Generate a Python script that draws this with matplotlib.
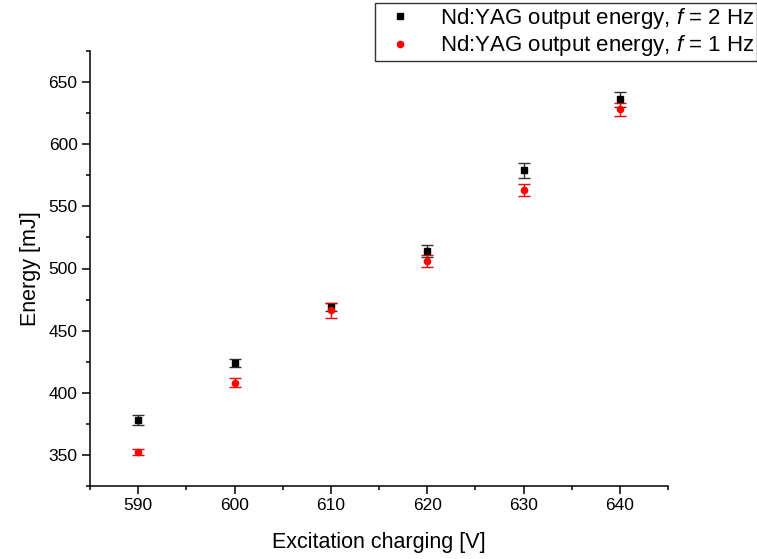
import matplotlib
matplotlib.use("Agg")
import matplotlib.pyplot as plt
from matplotlib.ticker import MultipleLocator

plt.rcParams['font.family'] = ['Liberation Sans', 'DejaVu Sans']
plt.rcParams['mathtext.fontset'] = 'custom'
plt.rcParams['mathtext.it'] = 'Liberation Sans:italic'
plt.rcParams['mathtext.rm'] = 'Liberation Sans'

voltage = [590, 600, 610, 620, 630, 640]
energy_2hz = [378, 424, 469, 514, 579, 636]
err_2hz = [3.8, 3.4, 3.5, 5.0, 5.8, 6.0]
energy_1hz = [352.5, 408, 466.5, 506, 563, 628]
err_1hz = [2.5, 3.6, 6.0, 5.0, 5.0, 5.0]

fig = plt.figure(figsize=(7.57, 5.59), dpi=100)
ax = fig.add_axes([90/757, 1-486/559, (668-90)/757, (486-51)/559])

h1 = ax.errorbar(voltage, energy_2hz, yerr=err_2hz, fmt='s', color='black',
                 ms=4, ecolor='#333333', elinewidth=1, capsize=4, capthick=1,
                 label=r'Nd:YAG output energy, $f$ = 2 Hz', zorder=3)
h2 = ax.errorbar(voltage, energy_1hz, yerr=err_1hz, fmt='o', color='red',
                 ms=4.5, ecolor='red', elinewidth=1, capsize=4, capthick=1,
                 label=r'Nd:YAG output energy, $f$ = 1 Hz', zorder=3)

ax.set_xlim(585, 645)
ax.set_ylim(325, 675)
ax.xaxis.set_major_locator(MultipleLocator(10))
ax.xaxis.set_minor_locator(MultipleLocator(5))
ax.yaxis.set_major_locator(MultipleLocator(50))
ax.yaxis.set_minor_locator(MultipleLocator(25))
ax.spines['top'].set_visible(False)
ax.spines['right'].set_visible(False)
for s in ['left', 'bottom']:
    ax.spines[s].set_linewidth(1.1)
ax.tick_params(which='major', direction='out', length=6, width=1.1, labelsize=12.5, pad=3)
ax.tick_params(which='minor', direction='out', length=3, width=1.1)

ax.set_xlabel('Excitation charging [V]', fontsize=15.5, labelpad=13)
ax.set_ylabel('Energy [mJ]', fontsize=15.5, labelpad=5)

leg = fig.legend(handles=[h1[0], h2[0]],
                 labels=[r'Nd:YAG output energy, $f$ = 2 Hz', r'Nd:YAG output energy, $f$ = 1 Hz'],
                 loc='upper right', bbox_to_anchor=(1.0, 1-3/559), bbox_transform=fig.transFigure,
                 fontsize=16, frameon=True, fancybox=False, edgecolor='black',
                 borderpad=0.12, labelspacing=0.12, handlelength=2.0, handletextpad=0.8,
                 borderaxespad=0)
leg.get_frame().set_linewidth(1.0)

fig.savefig('out.png', dpi=100)
